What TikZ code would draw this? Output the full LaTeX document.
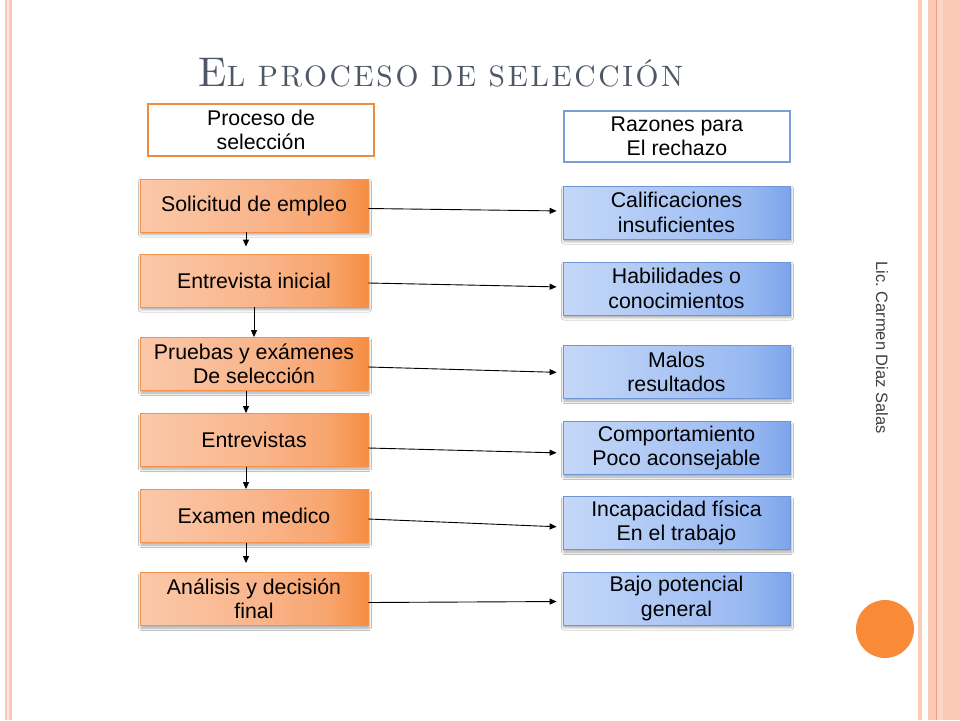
\documentclass[tikz,border=0pt]{standalone}
\usepackage{fontspec}
\setmainfont{Liberation Sans}
\newfontfamily\titlefont{lmroman10-regular}[Extension=.otf]
\usetikzlibrary{arrows.meta,shadows.blur}
\definecolor{stripe}{HTML}{FBCAB6}
\definecolor{stripeline}{HTML}{EFA07A}
\definecolor{titlecol}{HTML}{4E5766}
\definecolor{olight}{HTML}{FBC8A9}
\definecolor{omid}{HTML}{F9B68D}
\definecolor{omid2}{HTML}{F8A56F}
\definecolor{odark}{HTML}{F68D42}
\definecolor{oedge}{HTML}{F4914A}
\definecolor{ohead}{HTML}{F08A3C}
\definecolor{blight}{HTML}{C4D7F8}
\definecolor{bmid}{HTML}{ABC6F4}
\definecolor{bmid2}{HTML}{97B8F1}
\definecolor{bdark}{HTML}{7DA4EC}
\definecolor{bedge}{HTML}{6F95D4}
\definecolor{bhead}{HTML}{7B9DD3}
\definecolor{circ}{HTML}{F88A38}
\pgfdeclarehorizontalshading{oshade}{100bp}{color(0bp)=(olight); color(25bp)=(olight); color(50bp)=(omid); color(66bp)=(omid2); color(75bp)=(odark); color(100bp)=(odark)}
\pgfdeclarehorizontalshading{bshade}{100bp}{color(0bp)=(blight); color(25bp)=(blight); color(50bp)=(bmid); color(66bp)=(bmid2); color(75bp)=(bdark); color(100bp)=(bdark)}
\begin{document}
\begin{tikzpicture}[x=1pt,y=-1pt,
  box/.style={minimum height=53pt,inner sep=0pt,align=center,
    font=\fontsize{21.3}{24.5}\selectfont,text=black},
  obox/.style={box,minimum width=228pt,draw=oedge,line width=0.8pt,
    shading=oshade,
    blur shadow={shadow xshift=1pt,shadow yshift=-2.5pt,shadow blur radius=2.5pt,shadow opacity=35}},
  bbox/.style={box,minimum width=227pt,draw=bedge,line width=0.8pt,
    shading=bshade,
    blur shadow={shadow xshift=1pt,shadow yshift=-2.5pt,shadow blur radius=2.5pt,shadow opacity=35}},
  ohd/.style={box,minimum width=226pt,minimum height=52pt,draw=ohead,line width=2.6pt,fill=white},
  bhd/.style={box,minimum width=226pt,minimum height=51pt,draw=bhead,line width=2.4pt,fill=white},
  arr/.style={line width=0.9pt,-{Triangle[length=7pt,width=6pt]}}
]
\useasboundingbox (0,0) rectangle (960,720);
\fill[white] (0,0) rectangle (960,720);
% side stripes
\fill[stripe] (5,0) rectangle (12,720);
\fill[white!55!stripe] (7.4,0) rectangle (8.6,720);
\fill[stripe] (918,0) rectangle (922,720);
\fill[stripe] (928,0) rectangle (960,720);
\fill[stripeline] (935.6,0) rectangle (937,720);
\fill[white!25!stripe] (937,0) rectangle (943,720);

% title
\node[text=titlecol,anchor=base,inner sep=0pt] (title) at (441,86.5)
  {\titlefont\addfontfeatures{LetterSpace=9}\fontsize{41.5}{41.5}\selectfont E\fontsize{29.5}{29.5}\selectfont L PROCESO DE SELECCIÓN};

% headers
\node[ohd] (oh) at (261,130) {Proceso de\\ selección};
\node[bhd] (bh) at (677,136.5) {Razones para\\ El rechazo};

% left column
\node[obox] (o1) at (254,205.5) {Solicitud de empleo};
\node[obox] (o2) at (254,280.5) {Entrevista inicial};
\node[obox] (o3) at (254,364) {Pruebas y exámenes\\ De selección};
\node[obox] (o4) at (254,440) {Entrevistas};
\node[obox] (o5) at (254,516) {Examen medico};
\node[obox] (o6) at (254,599) {Análisis y decisión\\ final};

% right column
\node[bbox] (b1) at (676.5,212.5) {Calificaciones\\ insuficientes};
\node[bbox] (b2) at (676.5,288.5) {Habilidades o\\ conocimientos};
\node[bbox] (b3) at (676.5,372) {Malos\\ resultados};
\node[bbox] (b4) at (676.5,448) {Comportamiento\\ Poco aconsejable};
\node[bbox] (b5) at (676.5,523) {Incapacidad física\\ En el trabajo};
\node[bbox] (b6) at (676.5,598.5) {Bajo potencial\\ general};

% vertical arrows
\draw[arr,shorten >=7pt] ([xshift=-8pt]o1.south) -- ([xshift=-8pt]o2.north);
\draw[arr] (o2.south) -- (o3.north);
\draw[arr] ([xshift=-8pt]o3.south) -- ([xshift=-8pt]o4.north);
\draw[arr] ([xshift=-8pt]o4.south) -- ([xshift=-8pt]o5.north);
\draw[arr,shorten >=9pt] ([xshift=-8pt]o5.south) -- ([xshift=-8pt]o6.north);

% horizontal arrows
\draw[arr,shorten >=6pt] ([yshift=-3pt]o1.east) -- ([yshift=1.5pt]b1.west);
\draw[arr,shorten >=6pt] ([yshift=-2.5pt]o2.east) -- ([yshift=1.5pt]b2.west);
\draw[arr,shorten >=6pt] ([yshift=-3pt]o3.east) -- ([yshift=-0.5pt]b3.west);
\draw[arr,shorten >=6pt] ([yshift=-8pt]o4.east) -- ([yshift=-5pt]b4.west);
\draw[arr,shorten >=6pt] ([yshift=-3pt]o5.east) -- ([yshift=-4pt]b5.west);
\draw[arr,shorten >=6pt] ([yshift=-3.5pt]o6.east) -- ([yshift=-3pt]b6.west);

% author
\node[rotate=-90,text=black!75,font=\fontsize{16.5}{18}\selectfont,inner sep=0pt] (author) at (882,347.5) {Lic.\ Carmen Diaz Salas};

% dot
\node[circle,fill=circ,minimum size=58pt,inner sep=0pt] (dot) at (885,629) {};
\end{tikzpicture}
\end{document}
